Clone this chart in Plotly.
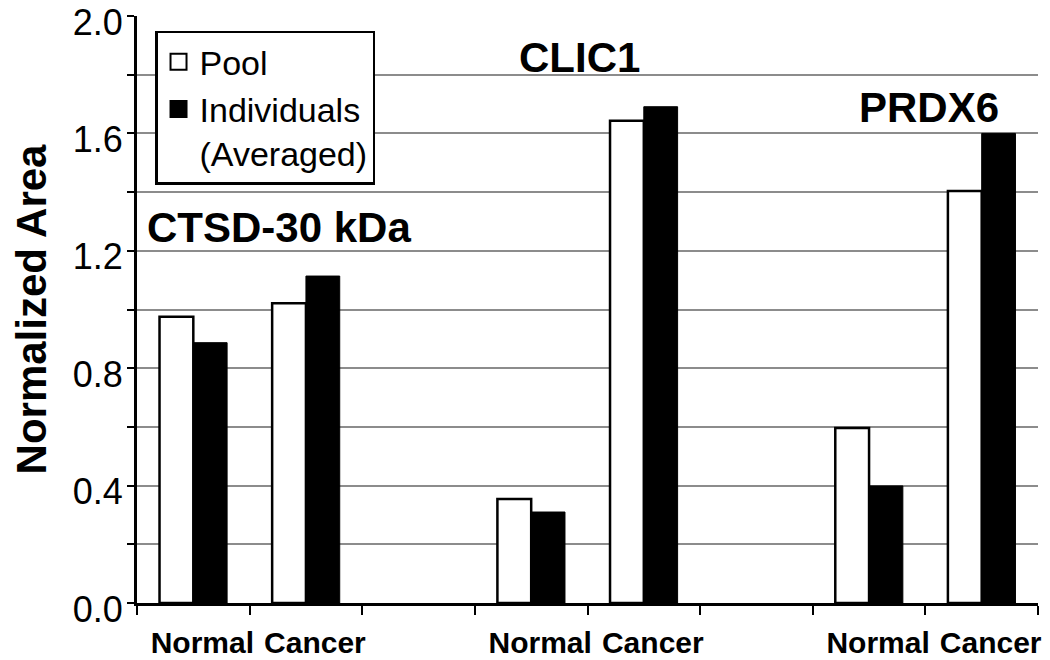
import plotly.graph_objects as go

# ---- data ----
x_labels = ["Normal", "Cancer", "", "Normal", "Cancer", "", "Normal", "Cancer"]
pool = [0.975, 1.021, None, 0.354, 1.643, None, 0.596, 1.404]
individuals = [0.887, 1.114, None, 0.310, 1.691, None, 0.399, 1.600]
protein_labels = ["CTSD-30 kDa", "CLIC1", "PRDX6"]
protein_label_x = [1.76, 4.43, 7.53]
protein_label_y = [1.28, 1.86, 1.69]
y_ticks = [0.0, 0.4, 0.8, 1.2, 1.6, 2.0]

x_pos = list(range(1, len(x_labels) + 1))
boundaries = [i + 0.5 for i in range(0, len(x_labels) + 1)]

FONT = "Arial, 'Liberation Sans', sans-serif"

fig = go.Figure()
fig.add_trace(go.Bar(
    x=x_pos, y=pool, name="Pool", showlegend=False,
    marker=dict(color="white", line=dict(color="black", width=2.5)),
))
fig.add_trace(go.Bar(
    x=x_pos, y=individuals, name="Individuals (Averaged)", showlegend=False,
    marker=dict(color="black", line=dict(color="black", width=1)),
))
# legend entries (square swatches)
fig.add_trace(go.Scatter(
    x=[None], y=[None], mode="markers", name="Pool",
    marker=dict(symbol="square", size=20, color="white", line=dict(color="black", width=2)),
))
fig.add_trace(go.Scatter(
    x=[None], y=[None], mode="markers", name="Individuals<br>(Averaged)",
    marker=dict(symbol="square", size=20, color="black", line=dict(color="black", width=2)),
))

for txt, lx, ly in zip(protein_labels, protein_label_x, protein_label_y):
    fig.add_annotation(x=lx, y=ly, xref="x", yref="y", text=f"<b>{txt}</b>",
                       showarrow=False, font=dict(family=FONT, size=42, color="black"))

fig.update_layout(
    width=1042, height=652,
    margin=dict(l=129, r=12, t=8, b=57),
    paper_bgcolor="white", plot_bgcolor="white",
    barmode="group", bargap=0.4, bargroupgap=0,
    font=dict(family=FONT, color="black"),
    legend=dict(
        x=0.02, y=0.975, xanchor="left", yanchor="top",
        bgcolor="white", bordercolor="black", borderwidth=2.5,
        font=dict(family=FONT, size=34, color="black"),
        valign="top", itemsizing="trace", itemwidth=32, tracegroupgap=0,
    ),
    showlegend=True,
)

fig.update_xaxes(
    range=[0.5, 8.5], automargin=False,
    tickmode="array", tickvals=x_pos, ticktext=x_labels,
    ticks="", ticklen=0, ticklabelshift=9, ticklabelstandoff=11,
    ticklabeloverflow="allow",
    tickfont=dict(family=FONT, size=30, color="black", weight="bold"),
    showline=True, linecolor="black", linewidth=3,
    showgrid=False, zeroline=False,
    minor=dict(tickmode="array", tickvals=boundaries, ticks="outside",
               ticklen=9, tickwidth=2, tickcolor="black", showgrid=False),
)

fig.update_yaxes(
    range=[0, 2.0001], automargin=False,
    tickmode="array", tickvals=y_ticks, tickformat=".1f",
    ticks="outside", ticklen=7, tickwidth=1.5, tickcolor="black",
    ticklabeloverflow="allow", ticklabelstandoff=-3, ticklabelshift=6,
    tickfont=dict(family=FONT, size=36, color="black"),
    showline=True, linecolor="black", linewidth=3,
    showgrid=True, gridcolor="#8c8c8c", gridwidth=2,
    zeroline=False,
    minor=dict(dtick=0.2, ticks="outside", ticklen=7, tickwidth=1.5,
               tickcolor="black", showgrid=True, gridcolor="#8c8c8c", gridwidth=2),
    title=dict(text="<b>Normalized Area</b>", font=dict(family=FONT, size=42, color="black"),
               standoff=14),
)

fig.write_html("out.html")
